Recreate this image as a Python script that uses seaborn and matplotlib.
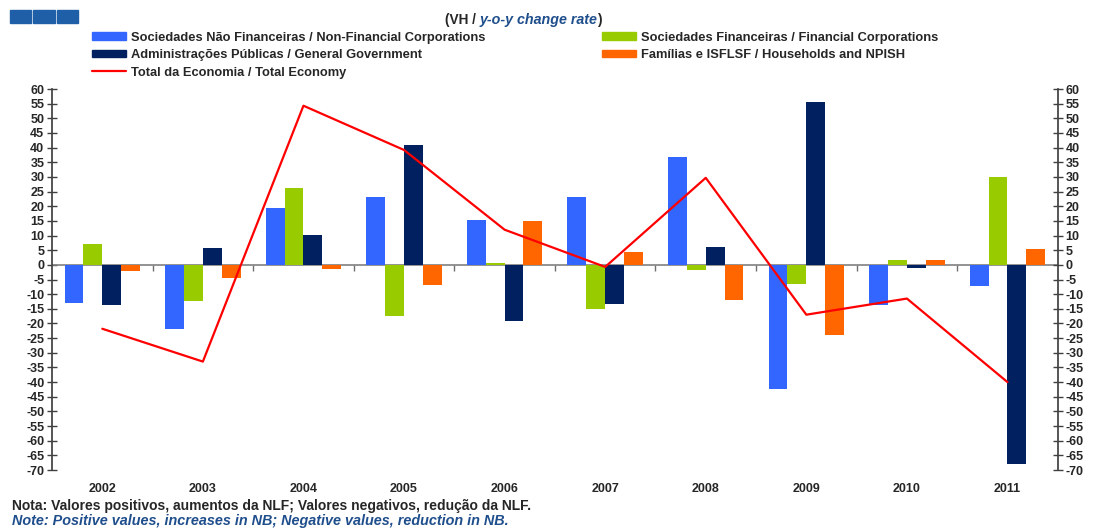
import numpy as np
import pandas as pd
import matplotlib.pyplot as plt
import seaborn as sns
from matplotlib.patches import Patch, Rectangle
from matplotlib.lines import Line2D

years = ["2002", "2003", "2004", "2005", "2006", "2007", "2008", "2009", "2010", "2011"]
non_financial = [-13.0, -22.0, 19.5, 23.0, 15.4, 23.0, 36.9, -42.3, -13.6, -7.2]
financial = [7.0, -12.3, 26.3, -17.4, 0.5, -15.0, -1.7, -6.5, 1.8, 30.0]
government = [-13.6, 5.8, 10.2, 41.0, -19.0, -13.3, 6.1, 55.6, -1.0, -68.0]
households = [-2.0, -4.4, -1.4, -6.8, 15.0, 4.4, -12.0, -23.9, 1.5, 5.5]
total = [-21.8, -33.0, 54.3, 39.2, 12.0, -0.7, 29.7, -17.0, -11.5, -40.0]

series_names = [
    "Sociedades Não Financeiras / Non-Financial Corporations",
    "Sociedades Financeiras / Financial Corporations",
    "Administrações Públicas / General Government",
    "Famílias e ISFLSF / Households and NPISH",
]
total_name = "Total da Economia / Total Economy"
colors = ["#3366FF", "#99CC00", "#002060", "#FF6600"]

df = pd.DataFrame({
    "year": years * 4,
    "sector": np.repeat(series_names, len(years)),
    "value": non_financial + financial + government + households,
})

sns.set_theme(style="white")
plt.rcParams["font.family"] = ["Liberation Sans", "DejaVu Sans"]
plt.rcParams["font.weight"] = "bold"
plt.rcParams["axes.unicode_minus"] = False

fig = plt.figure(figsize=(10.95, 5.28), dpi=100)
ax = fig.add_axes([0.0475, 0.1098, 0.9185, 0.7216])

ymin, ymax = -70, 60
ax.axhline(0, color="#808080", lw=1.2, zorder=0.8)

# category separators on the zero line
zero_loc = (0 - ymin) / (ymax - ymin)
sec = ax.secondary_xaxis(zero_loc)
sec.set_xticks(np.arange(0.5, len(years) - 0.5, 1))
sec.xaxis.set_ticks_position("bottom")
sec.tick_params(axis="x", direction="out", length=4, width=1, color="#707070",
                labelbottom=False, labeltop=False)
for s in sec.spines.values():
    s.set_visible(False)
sec.set_xticklabels([])

sns.barplot(data=df, x="year", y="value", hue="sector", palette=colors,
            width=0.75, dodge=True, ax=ax, legend=False, saturation=1, linewidth=0)
ax.plot(np.arange(len(years)), total, color="#FF0000", lw=1.6, zorder=5)

ax.set_ylim(ymin, ymax)
ax.set_xlim(-0.5, len(years) - 0.5)
ax.set_yticks(np.arange(ymin, ymax + 1, 5))
ax.tick_params(axis="y", direction="inout", length=7, width=1, color="#404040",
               labelsize=9, pad=2, left=True)
for lab in ax.get_yticklabels():
    lab.set_fontweight("bold")
ax.set_xlabel("")
ax.set_ylabel("")
ax.tick_params(axis="x", length=0, labelsize=9, pad=9)
for lab in ax.get_xticklabels():
    lab.set_fontweight("bold")

for s in ["top", "bottom", "right"]:
    ax.spines[s].set_visible(False)
ax.spines["left"].set_color("#404040")

ax2 = ax.twinx()
ax2.set_ylim(ymin, ymax)
ax2.set_yticks(np.arange(ymin, ymax + 1, 5))
ax2.tick_params(axis="y", direction="inout", length=7, width=1, color="#404040",
                labelsize=9, pad=2, right=True)
for lab in ax2.get_yticklabels():
    lab.set_fontweight("bold")
for s in ["top", "bottom", "left"]:
    ax2.spines[s].set_visible(False)
ax2.spines["right"].set_color("#404040")
ax2.grid(False)

# legend
handles = [Patch(color=colors[0]), Patch(color=colors[2]),
           Line2D([], [], color="#FF0000", lw=1.6),
           Patch(color=colors[1]), Patch(color=colors[3])]
labels = [series_names[0], series_names[2], total_name, series_names[1], series_names[3]]
fig.legend(handles, labels, ncol=2, loc="upper left", bbox_to_anchor=(0.073, 0.962),
           frameon=False, handlelength=2.7, handleheight=0.55,
           handletextpad=0.35, columnspacing=9.0, labelspacing=0.42,
           prop={"weight": "bold", "size": 9.3})

# title pieces
fig.canvas.draw()
r = fig.canvas.get_renderer()
t1 = fig.text(0.406, 0.963, "(VH / ", fontsize=9.8, fontweight="bold", va="center")
x = t1.get_window_extent(r).x1 / fig.bbox.width
t2 = fig.text(x, 0.963, "y-o-y change rate", fontsize=10.3, fontweight="bold",
              style="italic", color="#1F4E8C", va="center")
x = t2.get_window_extent(r).x1 / fig.bbox.width + 0.001
fig.text(x, 0.963, ")", fontsize=9.8, fontweight="bold", va="center")

# logo squares
for i in range(3):
    fig.patches.append(Rectangle((0.009 + i * 0.0215, 0.957), 0.0195, 0.025,
                                 transform=fig.transFigure, color="#1F5FA8"))

fig.text(0.011, 0.042, "Nota: Valores positivos, aumentos da NLF; Valores negativos, redução da NLF.",
         fontsize=10, fontweight="bold", va="center")
fig.text(0.011, 0.014, "Note: Positive values, increases in NB; Negative values, reduction in NB.",
         fontsize=10.4, fontweight="bold", style="italic", color="#1F4E8C", va="center")

fig.savefig("out.png", dpi=100)
